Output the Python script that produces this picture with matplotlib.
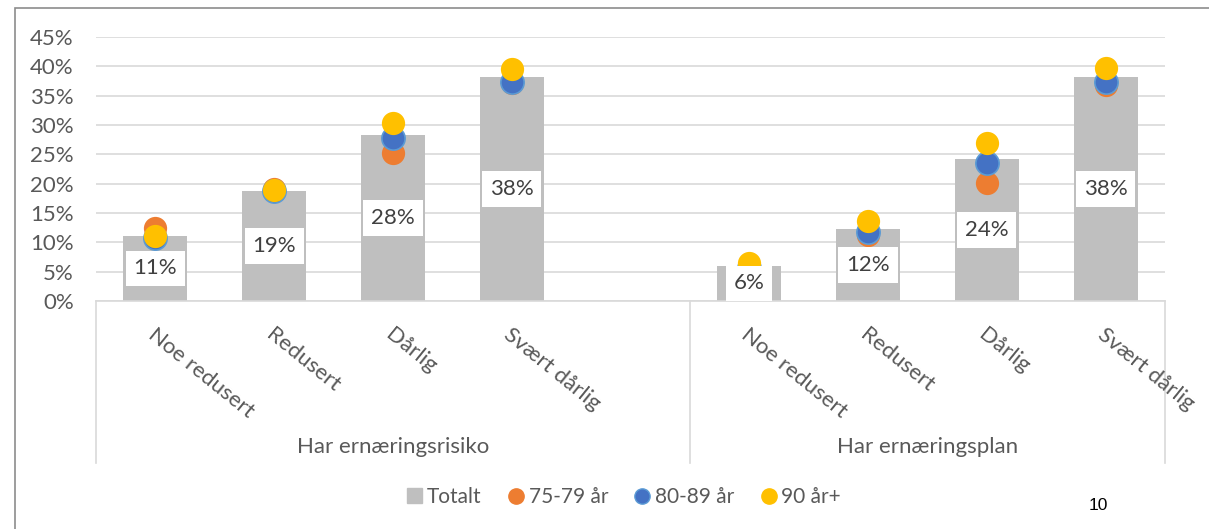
"""Ernæringsrisiko / ernæringsplan by self-rated health, total and per age group."""

import matplotlib.pyplot as plt
from matplotlib.lines import Line2D
from matplotlib.patches import Patch, Rectangle

plt.rcParams["font.family"] = ["Lato", "DejaVu Sans"]

GROUPS = ["Har ernæringsrisiko", "Har ernæringsplan"]
CATEGORIES = ["Noe redusert", "Redusert", "Dårlig", "Svært dårlig"]

# values per group, in category order
TOTALT = [[0.111, 0.188, 0.283, 0.382], [0.060, 0.123, 0.242, 0.382]]
AGE_75_79 = [[0.124, 0.191, 0.252, 0.371], [0.055, 0.112, 0.201, 0.368]]
AGE_80_89 = [[0.108, 0.187, 0.278, 0.373], [0.056, 0.118, 0.236, 0.373]]
AGE_90 = [[0.110, 0.190, 0.303, 0.395], [0.064, 0.136, 0.269, 0.397]]
LABELS = [["11%", "19%", "28%", "38%"], ["6%", "12%", "24%", "38%"]]

YTICKS = [0, 0.05, 0.10, 0.15, 0.20, 0.25, 0.30, 0.35, 0.40, 0.45]

GREY = "#BFBFBF"
ORANGE = "#ED7D31"
BLUE = "#4472C4"
YELLOW = "#FFC000"
TEXT = "#595959"
LINE = "#D9D9D9"
FS = 16

# slot layout: group 1 occupies slots 0-4 (last one empty), group 2 slots 5-8
SLOTS = [[0, 1, 2, 3], [5, 6, 7, 8]]
GROUP_EDGES = [(-0.5, 4.5), (4.5, 8.5)]

fig = plt.figure(figsize=(12.09, 5.29), dpi=100)
ax = fig.add_axes([0.0794, 0.431, 0.8842, 0.499])

for g, slots in enumerate(SLOTS):
    ax.bar(slots, TOTALT[g], width=0.54, color=GREY, zorder=2)
    ax.scatter(slots, AGE_75_79[g], s=280, color=ORANGE, zorder=3, linewidths=0)
    ax.scatter(slots, AGE_80_89[g], s=280, color=BLUE, edgecolors="#5B9BD5",
               linewidths=1.2, zorder=4)
    ax.scatter(slots, AGE_90[g], s=280, color=YELLOW, zorder=5, linewidths=0)
    for x, v, lab in zip(slots, TOTALT[g], LABELS[g]):
        ax.text(x, v / 2, lab, ha="center", va="center", fontsize=FS,
                color="#404040", zorder=6,
                bbox=dict(boxstyle="square,pad=0.35", fc="white", ec="none"))
    for x, cat in zip(slots, CATEGORIES):
        ax.text(x + 0.01, -0.040, cat, rotation=-39, rotation_mode="anchor",
                ha="left", va="top", fontsize=FS, color=TEXT, clip_on=False)
    lo, hi = GROUP_EDGES[g]
    ax.text((lo + hi) / 2, -0.249, GROUPS[g], ha="center", va="center",
            fontsize=FS, color=TEXT, clip_on=False)

# category axis dividers
for x in [-0.5, 4.5, 8.5]:
    ax.plot([x, x], [0, -0.277], color=LINE, lw=1.2, clip_on=False, zorder=1)

ax.set_xlim(-0.5, 8.5)
ax.set_ylim(0, 0.45)
ax.set_yticks(YTICKS)
ax.set_yticklabels([f"{int(round(t * 100))}%" for t in YTICKS])
ax.tick_params(axis="y", length=0, labelsize=FS, labelcolor=TEXT, pad=16)
ax.set_xticks([])
ax.grid(axis="y", color=LINE, lw=1.2, zorder=0)
ax.set_axisbelow(True)
for side in ["top", "right", "left"]:
    ax.spines[side].set_visible(False)
ax.spines["bottom"].set_color(LINE)
ax.spines["bottom"].set_linewidth(1.2)

handles = [
    Patch(color=GREY, label="Totalt"),
    Line2D([], [], marker="o", ls="", color=ORANGE, markersize=11, label="75-79 år"),
    Line2D([], [], marker="o", ls="", color=BLUE, markeredgecolor="#5B9BD5",
           markersize=11, label="80-89 år"),
    Line2D([], [], marker="o", ls="", color=YELLOW, markersize=11, label="90 år+"),
]
fig.legend(handles=handles, loc="center", bbox_to_anchor=(624 / 1209, 32 / 529),
           ncol=4, frameon=False, fontsize=15, labelcolor=TEXT,
           handlelength=0.7, handletextpad=0.25, columnspacing=1.3)

# outer chart frame and page number
fig.patches.append(Rectangle((15 / 1209, -0.05), 1.1, (529 - 8) / 529 + 0.05,
                             transform=fig.transFigure, fill=False,
                             ec="#8C8C8C", lw=1.2))
fig.text(1098 / 1209, 24 / 529, "10", fontsize=12.5, color="black",
         family="Liberation Sans", ha="center", va="center")

fig.savefig("out.png", dpi=100)
